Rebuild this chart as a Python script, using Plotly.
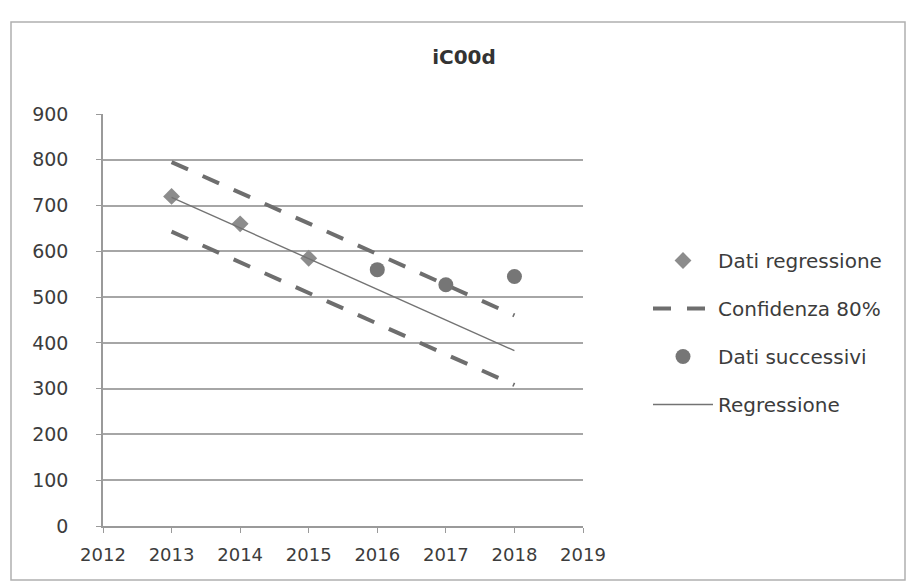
import plotly.graph_objects as go

# Regression input data
reg_years = [2013, 2014, 2015]
reg_values = [720, 660, 585]

# Later observations
next_years = [2016, 2017, 2018]
next_values = [560, 527, 545]

# Fitted regression line and 80% confidence band
fit_years = [2013, 2014, 2015, 2016, 2017, 2018]
fit_values = [718, 651, 584, 517, 450, 383]
upper_values = [795, 728, 661, 594, 527, 460]
lower_values = [643, 576, 509, 442, 375, 308]

x_ticks = [2012, 2013, 2014, 2015, 2016, 2017, 2018, 2019]
y_ticks = [0, 100, 200, 300, 400, 500, 600, 700, 800, 900]

FONT = "DejaVu Sans"
TEXT = "#3c3c3c"

fig = go.Figure()

fig.add_trace(go.Scatter(
    x=reg_years, y=reg_values, mode="markers", name="Dati regressione",
    legendgroup="a",
    marker=dict(symbol="diamond", size=13, color="#8c8c8c"),
))
fig.add_trace(go.Scatter(
    x=fit_years, y=upper_values, mode="lines", name="Confidenza 80%",
    legendgroup="b",
    line=dict(color="#6e6e6e", width=4, dash="18px,16px"),
))
fig.add_trace(go.Scatter(
    x=fit_years, y=lower_values, mode="lines", name="Confidenza 80%",
    legendgroup="b", showlegend=False,
    line=dict(color="#6e6e6e", width=4, dash="18px,16px"),
))
fig.add_trace(go.Scatter(
    x=next_years, y=next_values, mode="markers", name="Dati successivi",
    legendgroup="c",
    marker=dict(symbol="circle", size=15, color="#767676"),
))
fig.add_trace(go.Scatter(
    x=fit_years, y=fit_values, mode="lines", name="Regressione",
    legendgroup="d",
    line=dict(color="#737373", width=1.4),
))

L, R, T, B = 103, 331, 114, 59
W, H = 914, 585
pw, ph = W - L - R, H - T - B

def px_x(px):
    return (px - L) / pw

def px_y(py):
    return (H - B - py) / ph

fig.update_layout(
    width=W, height=H,
    margin=dict(l=L, r=R, t=T, b=B),
    paper_bgcolor="#ffffff", plot_bgcolor="#ffffff",
    font=dict(family=FONT, size=18, color=TEXT),
    title=dict(text="<b>iC00d</b>", xref="container", x=464 / W, xanchor="center",
               yref="container", y=1 - 57 / H, yanchor="middle",
               font=dict(size=20, color="#333333")),
    showlegend=True,
    legend=dict(x=px_x(648), y=px_y(241), xanchor="left", yanchor="top",
                font=dict(size=20, color=TEXT), tracegroupgap=19,
                itemwidth=60, bgcolor="rgba(0,0,0,0)"),
    xaxis=dict(range=[2012, 2019], tickvals=x_ticks, ticktext=[str(v) for v in x_ticks],
               showgrid=False, zeroline=False, showline=True, linecolor="#9a9a9a",
               linewidth=1.5, ticks="outside", ticklen=5, tickcolor="#9a9a9a",
               ticklabelstandoff=7, tickfont=dict(size=18)),
    yaxis=dict(range=[0, 900], tickvals=y_ticks, showgrid=True, gridcolor="#a6a6a6",
               gridwidth=1.5, zeroline=False, showline=True, linecolor="#9a9a9a",
               linewidth=1.5, ticks="outside", ticklen=5, tickcolor="#9a9a9a",
               ticklabelstandoff=24, tickfont=dict(size=19)),
    shapes=[dict(type="rect", xref="paper", yref="paper",
                 x0=px_x(11), x1=px_x(905), y0=px_y(580), y1=px_y(22),
                 line=dict(color="#b0b0b0", width=1.5), fillcolor="rgba(0,0,0,0)")],
)

fig.write_html("out.html")
